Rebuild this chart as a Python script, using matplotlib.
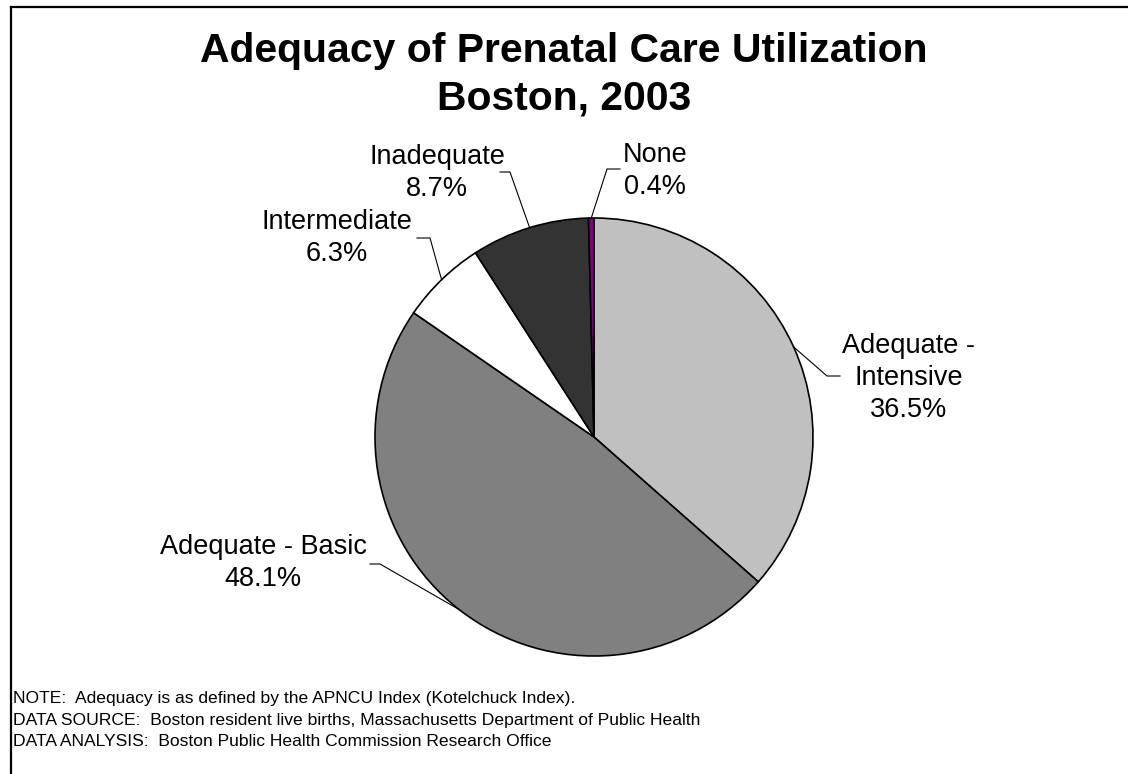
import matplotlib
matplotlib.use("Agg")
import matplotlib.pyplot as plt
import numpy as np
from matplotlib.lines import Line2D

# data
categories = ["Adequate -\nIntensive", "Adequate - Basic", "Intermediate", "Inadequate", "None"]
shares = [36.5, 48.1, 6.3, 8.7, 0.4]
colors = ["#C0C0C0", "#808080", "#FFFFFF", "#333333", "#800080"]

title_lines = ["Adequacy of Prenatal Care Utilization", "Boston, 2003"]
notes = [
    "NOTE:  Adequacy is as defined by the APNCU Index (Kotelchuck Index).",
    "DATA SOURCE:  Boston resident live births, Massachusetts Department of Public Health",
    "DATA ANALYSIS:  Boston Public Health Commission Research Office",
]

# label layout in pixels: (elbow, line end, text centre)
label_layout = [
    ((827, 376), (840, 376), (909, 378)),
    ((380, 564), (370, 564), (263, 563)),
    ((430, 238), (417, 238), (337, 238)),
    ((510, 172), (500, 172), (437, 173)),
    ((607, 169), (620, 169), (655, 171)),
]

W, H = 1128, 774
plt.rcParams['font.family'] = ['Liberation Sans', 'DejaVu Sans']
fig = plt.figure(figsize=(W / 100, H / 100), dpi=100)

cx, cy, R = 594, 437, 219
ax = fig.add_axes([(cx - R) / W, (H - cy - R) / H, 2 * R / W, 2 * R / H])

wedges, _ = ax.pie(shares, colors=colors, startangle=90, counterclock=False, radius=1,
                   wedgeprops=dict(edgecolor="black", linewidth=1.2))
ax.set_xlim(-1, 1)
ax.set_ylim(-1, 1)
ax.axis("off")


def px2data(p):
    return ((p[0] - cx) / R, (cy - p[1]) / R)


for w, lab, val, (elbow, end, tpos) in zip(wedges, categories, shares, label_layout):
    mid = np.deg2rad((w.theta1 + w.theta2) / 2)
    edge = (np.cos(mid), np.sin(mid))
    e = px2data(elbow)
    f = px2data(end)
    ax.add_line(Line2D([edge[0], e[0], f[0]], [edge[1], e[1], f[1]],
                       color="black", lw=0.8, clip_on=False))
    t = px2data(tpos)
    ax.text(t[0], t[1], f"{lab}\n{val:.1f}%", ha="center", va="center",
            multialignment="center", fontsize=19.5, linespacing=1.3, clip_on=False)

fig.text(564 / W, 1 - 51 / H, title_lines[0], ha="center", va="center",
         fontsize=29.4, fontweight="bold")
fig.text(564 / W, 1 - 99 / H, title_lines[1], ha="center", va="center",
         fontsize=29.4, fontweight="bold")

for i, line in enumerate(notes):
    fig.text(13 / W, 1 - (699 + 21 * i) / H, line, ha="left", va="center", fontsize=12.6)

# frame (left and top edges visible)
fig.add_artist(Line2D([11 / W, 11 / W], [1 - 7 / H, 0], color="black", lw=1.6,
                      transform=fig.transFigure))
fig.add_artist(Line2D([11 / W, 1], [1 - 7 / H, 1 - 7 / H], color="black", lw=1.6,
                      transform=fig.transFigure))

fig.savefig("out.png", dpi=100)
